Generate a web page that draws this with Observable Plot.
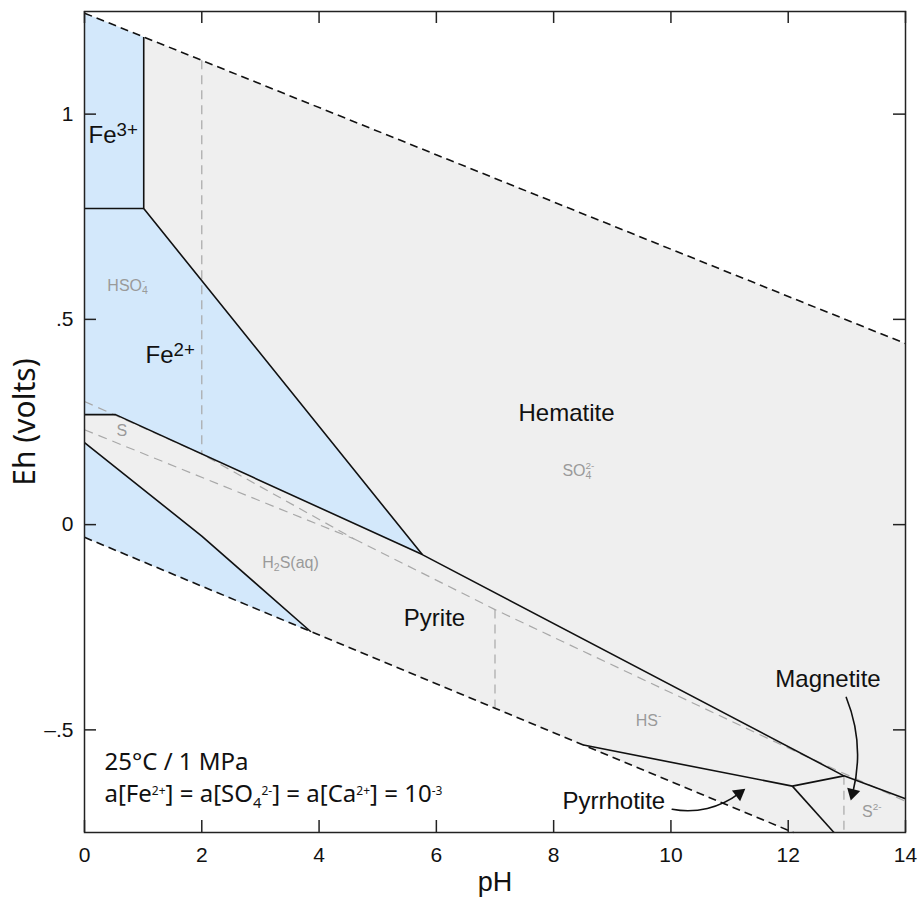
<!DOCTYPE html>
<html><head><meta charset="utf-8">
<script src="https://cdn.jsdelivr.net/npm/d3@7"></script>
<script src="https://cdn.jsdelivr.net/npm/@observablehq/plot@0.6"></script>
<style>html,body{margin:0;padding:0;background:#fff;}</style>
</head><body>
<script>
// ---------------- data (pH, Eh in volts) ----------------
const xTicks = [0, 2, 4, 6, 8, 10, 12, 14];
const yTicks = [-0.5, 0, 0.5, 1];

const waterUpper = [[0, 1.246], [14, 0.441]];
const waterLower = [[0, -0.031], [12.09, -0.75]];

const stabilityField = [[0, 1.246], [14, 0.441], [14, -0.75], [12.09, -0.75], [0, -0.031]];
const fe3Field = [[0, 1.246], [1.01, 1.188], [1.01, 0.770], [0, 0.770]];
const fe2FieldUpper = [[0, 0.770], [1.01, 0.770], [5.76, -0.073], [0.53, 0.268], [0, 0.268]];
const fe2FieldLower = [[0, 0.200], [2, -0.028], [3.86, -0.261], [0, -0.031]];

const solidBoundaries = [
  [[0, 0.770], [1.01, 0.770]],
  [[1.01, 1.188], [1.01, 0.770], [5.76, -0.073]],
  [[0, 0.268], [0.53, 0.268], [5.76, -0.073], [12.95, -0.612], [14, -0.668]],
  [[0, 0.200], [2, -0.028], [3.86, -0.261]],
  [[8.51, -0.537], [12.07, -0.637], [12.95, -0.612]],
  [[12.07, -0.637], [12.78, -0.75]]
];

const sulfurBoundaries = [
  [[2, 1.131], [2, 0.172]],
  [[0, 0.300], [2, 0.172], [4.6, -0.035]],
  [[0, 0.231], [4.6, -0.035]],
  [[4.6, -0.035], [7, -0.207], [12.1, -0.551], [14, -0.674]],
  [[7, -0.207], [7, -0.448]],
  [[12.95, -0.612], [12.95, -0.75]]
];

const fieldLabels = [
  {pH: 0.07, Eh: 0.949, text: "Fe^{3+}"},
  {pH: 1.04, Eh: 0.412, text: "Fe^{2+}"},
  {pH: 7.40, Eh: 0.270, text: "Hematite"},
  {pH: 5.445, Eh: -0.229, text: "Pyrite"},
  {pH: 11.78, Eh: -0.378, text: "Magnetite"},
  {pH: 8.15, Eh: -0.674, text: "Pyrrhotite"}
];

const speciesLabels = [
  {pH: 0.39, Eh: 0.582, text: "HSO_{4}^{-}"},
  {pH: 0.545, Eh: 0.229, text: "S"},
  {pH: 3.03, Eh: -0.092, text: "H_{2}S(aq)"},
  {pH: 8.15, Eh: 0.132, text: "SO_{4}^{2-}"},
  {pH: 9.40, Eh: -0.478, text: "HS^{-}"},
  {pH: 13.26, Eh: -0.700, text: "S^{2-}"}
];

const conditionLines = [
  {pH: 0.341, Eh: -0.580, text: "25°C / 1 MPa"},
  {pH: 0.341, Eh: -0.657, text: "a[Fe^{2+}] = a[SO_{4}~^{2-}] = a[Ca^{2+}] = 10^{-3}"}
];

const magnetiteArrow = [{x1: 12.99, y1: -0.421, x2: 13.10, y2: -0.654}];
const pyrrhotiteArrow = [{x1: 10.022, y1: -0.6934, x2: 11.163, y2: -0.6549}];

// ---------------- layout ----------------
const W = 921, H = 897, ML = 84, MR = 16, MT = 11, MB = 65, TICK = 12;
const innerW = W - ML - MR, innerH = H - MT - MB;

const toRows = (polys) => polys.flatMap((pts, id) => pts.map(([pH, Eh]) => ({pH, Eh, id})));
const fmtY = (d) => d === 0 ? "0" : (d < 0 ? "\u2013" : "") + String(Math.abs(d)).replace(/^0/, "");
const ARIAL = "Liberation Sans, Arial, Helvetica, sans-serif";
const NOTO = "Noto Sans, Open Sans, sans-serif";
const INK = "#111";
const FRAME = "#222";

const chart = Plot.plot({
  width: W,
  height: H,
  marginLeft: ML,
  marginRight: MR,
  marginTop: MT,
  marginBottom: MB,
  style: {fontFamily: ARIAL, background: "#fff"},
  x: {domain: [0, 14]},
  y: {domain: [-0.75, 1.25]},
  marks: [
    Plot.line(toRows([stabilityField]), {x: "pH", y: "Eh", z: "id", fill: "#efefef", stroke: "none"}),
    Plot.line(toRows([fe3Field, fe2FieldUpper, fe2FieldLower]), {x: "pH", y: "Eh", z: "id", fill: "#d3e8fb", stroke: "none"}),
    Plot.line(toRows(sulfurBoundaries), {x: "pH", y: "Eh", z: "id", stroke: "#a8a8a8", strokeWidth: 1.2, strokeDasharray: "9,6", strokeLinecap: "butt"}),
    Plot.line(toRows([waterUpper, waterLower]), {x: "pH", y: "Eh", z: "id", stroke: INK, strokeWidth: 1.6, strokeDasharray: "8,5", strokeLinecap: "butt"}),
    Plot.line(toRows(solidBoundaries), {x: "pH", y: "Eh", z: "id", stroke: INK, strokeWidth: 1.6, strokeLinejoin: "miter", strokeLinecap: "butt"}),

    Plot.text(speciesLabels, {x: "pH", y: "Eh", text: "text", textAnchor: "start", fontSize: 16, fill: "#9a9a9a", fontFamily: ARIAL}),
    Plot.text(fieldLabels, {x: "pH", y: "Eh", text: "text", textAnchor: "start", fontSize: 24, fill: INK, fontFamily: ARIAL}),
    Plot.text(conditionLines, {x: "pH", y: "Eh", text: "text", textAnchor: "start", fontSize: 24, fill: INK, fontFamily: NOTO}),

    Plot.arrow(magnetiteArrow, {x1: "x1", y1: "y1", x2: "x2", y2: "y2", bend: 18, headLength: 0, stroke: INK, strokeWidth: 1.6}),
    Plot.dot(magnetiteArrow, {x: "x2", y: "y2", symbol: "triangle", r: 5, rotate: 194.6, fill: INK, stroke: "none"}),
    Plot.arrow(pyrrhotiteArrow, {x1: "x1", y1: "y1", x2: "x2", y2: "y2", bend: -24, headLength: 0, stroke: INK, strokeWidth: 1.6}),
    Plot.dot(pyrrhotiteArrow, {x: "x2", y: "y2", symbol: "triangle", r: 5, rotate: 52.7, fill: INK, stroke: "none"}),

    // tick labels
    Plot.axisX(xTicks, {anchor: "bottom", tickSize: 0, tickPadding: 15, fontSize: 21, fill: INK, label: null}),
    Plot.axisY(yTicks, {anchor: "left", tickSize: 0, tickPadding: 11, fontSize: 21, fill: INK, tickFormat: fmtY, label: null}),
    // inward ticks on all four sides
    Plot.tickX(xTicks, {x: (d) => d, insetBottom: innerH - TICK, stroke: FRAME, strokeWidth: 1.5}),
    Plot.tickX(xTicks, {x: (d) => d, insetTop: innerH - TICK, stroke: FRAME, strokeWidth: 1.5}),
    Plot.tickY(yTicks, {y: (d) => d, insetRight: innerW - TICK, stroke: FRAME, strokeWidth: 1.5}),
    Plot.tickY(yTicks, {y: (d) => d, insetLeft: innerW - TICK, stroke: FRAME, strokeWidth: 1.5}),

    // axis titles
    Plot.text(["pH"], {frameAnchor: "bottom", textAnchor: "middle", lineAnchor: "middle", dy: 50, fontSize: 27, fill: INK, fontFamily: ARIAL}),
    Plot.text(["Eh (volts)"], {frameAnchor: "left", textAnchor: "middle", lineAnchor: "middle", dx: -59, rotate: -90, fontSize: 30, fill: INK, fontFamily: NOTO}),

    Plot.frame({stroke: FRAME, strokeWidth: 1.5})
  ]
});

document.body.appendChild(chart);

// rich text: ^{...} superscript, _{...} subscript (a following ^ stacks above it unless ~)
const RICH = {
  field:      {sup: 0.78, raise: 0.30, sub: 0.70, lower: 0.20},
  species:    {sup: 0.62, raise: 0.42, sub: 0.66, lower: 0.22},
  conditions: {sup: 0.50, raise: 0.28, sub: 0.62, lower: 0.26}
};
function richify(root) {
  const ns = "http://www.w3.org/2000/svg";
  root.querySelectorAll("text").forEach((t) => {
    const src = t.textContent;
    if (!/[\^_]\{/.test(src)) return;
    const cs = getComputedStyle(t);
    const fs = parseFloat(cs.fontSize) || 16;
    const cfg = /Noto/.test(cs.fontFamily) ? RICH.conditions : (fs >= 20 ? RICH.field : RICH.species);
    while (t.firstChild) t.removeChild(t.firstChild);
    const re = /([\^_])\{([^}]*)\}|~|[^\^_~]+/g;
    let m, shift = 0, lastSub = null, noStack = false;
    while ((m = re.exec(src))) {
      if (m[0] === "~") { noStack = true; continue; }
      const ts = document.createElementNS(ns, "tspan");
      let target = 0;
      if (m[1] === "^") { target = -cfg.raise * fs; ts.setAttribute("font-size", cfg.sup * fs); }
      else if (m[1] === "_") { target = cfg.lower * fs; ts.setAttribute("font-size", cfg.sub * fs); }
      ts.textContent = m[1] ? m[2] : m[0];
      ts.setAttribute("dy", target - shift);
      shift = target;
      t.appendChild(ts);
      if (m[1] === "^" && lastSub && !noStack) {
        ts.setAttribute("dx", -lastSub.getComputedTextLength());
      }
      lastSub = m[1] === "_" ? ts : null;
      noStack = false;
    }
  });
}
richify(chart);
</script>
</body></html>
